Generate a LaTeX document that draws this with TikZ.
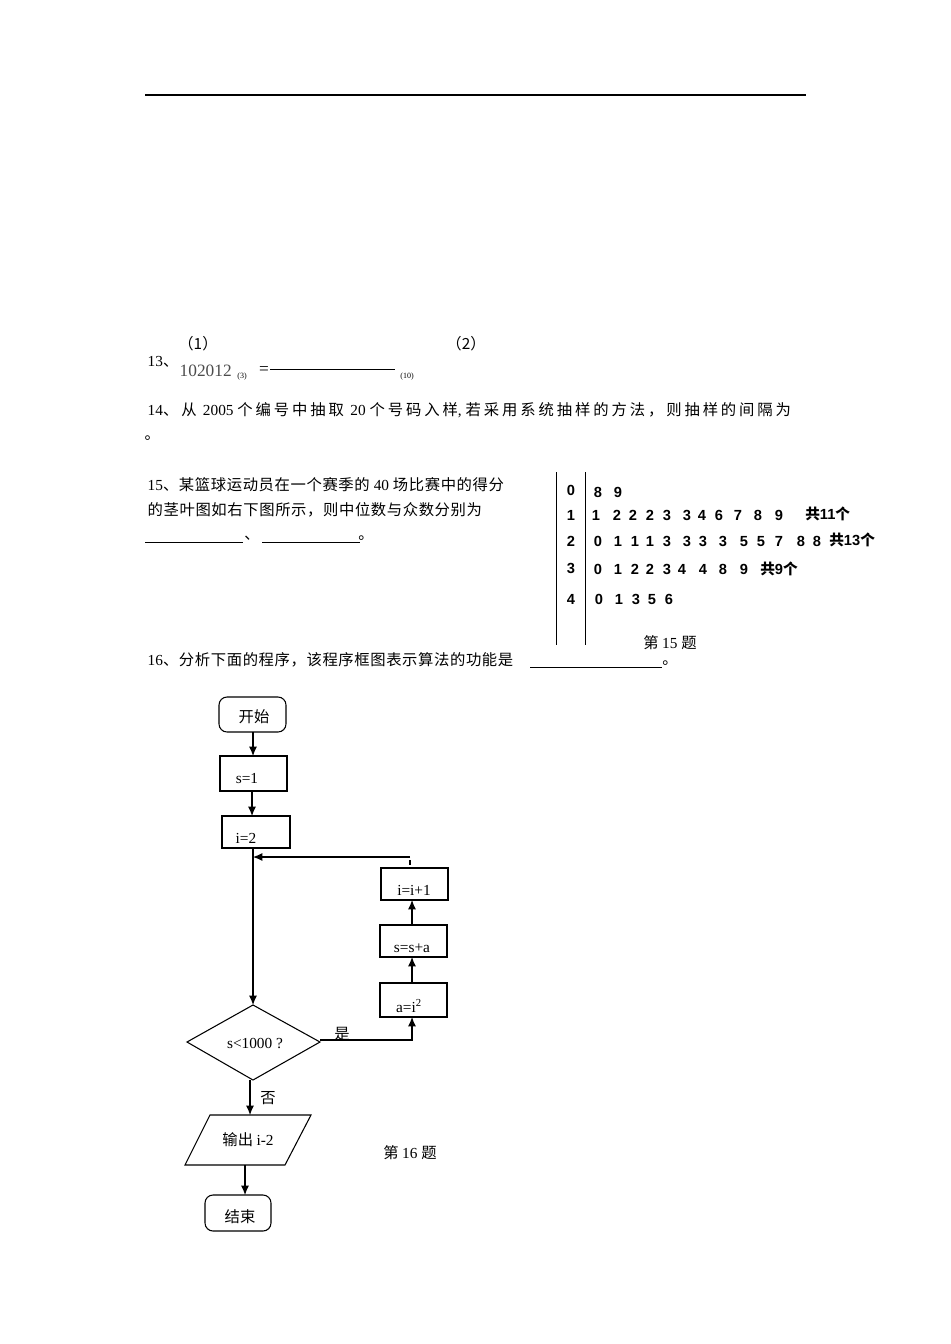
\documentclass[tikz,border=0pt]{standalone}
\usepackage{fontspec}
\setmainfont{Liberation Serif}
\newfontfamily\cjk{Noto Sans CJK SC}
\newfontfamily\cjkw[LetterSpace=19]{Noto Sans CJK SC}
\newfontfamily\cjkv[LetterSpace=4]{Noto Sans CJK SC}
\newfontfamily\arial{Liberation Sans}
\usetikzlibrary{arrows.meta}
\begin{document}
\begin{tikzpicture}[x=0.75pt,y=-0.75pt,
  every node/.style={font=\fontsize{11.5}{13}\selectfont},
  arr/.style={thick,-{Latex[length=7pt,width=6pt]}},
  sl/.style={font=\arial\bfseries\fontsize{11}{12}\selectfont,text height=8pt,text depth=0pt}]
\useasboundingbox (0,0) rectangle (950,1344);
\draw[thick] (145,95) -- (806,95);
% 13
\node (p1) at (198,344) {\cjk （1）};
\node (p2) at (466,344) {\cjk （2）};
\node[anchor=west] (q13) at (143,362) {13\cjk 、};
\node[anchor=west,font=\fontsize{13}{14}\selectfont,text=black!70] (num) at (175,371) {102012};
\node[font=\fontsize{6}{7}\selectfont] (s3) at (242,377) {(3)};
\node[font=\fontsize{13}{14}\selectfont] (eq) at (264,371) {=};
\draw (270,369) -- (395,369);
\node[font=\fontsize{6}{7}\selectfont] (s10) at (407,377) {(10)};
% 14
\node[anchor=west] (q14) at (143,410) {14\cjkw 、从 \rmfamily 2005 \cjkw 个编号中抽取 \rmfamily 20 \cjkw 个号码入样\rmfamily , \cjkw 若采用系统抽样的方法，则抽样的间隔为};
\node[anchor=west] (d14) at (140,438) {\cjk 。};
% 15
\node[anchor=west] (q15a) at (143,485) {15\cjkv 、某篮球运动员在一个赛季的 \rmfamily 40 \cjkv 场比赛中的得分};
\node[anchor=west] (q15b) at (143,510) {\cjkv 的茎叶图如右下图所示，则中位数与众数分别为};
\draw (145,542) -- (243,542);
\draw (262,542) -- (360,542);
\node (c15) at (252,538) {\cjk 、};
\node (e15) at (366,538) {\cjk 。};
\draw (556,472) -- (556,645);
\draw (585,472) -- (585,645);
\foreach \d/\y [count=\k] in {0/490,1/515,2/541,3/568,4/599} \node[sl] (r\k) at (571,\y) {\d};
\foreach \d/\x [count=\k] in {8/598,9/618} \node[sl] (la\k) at (\x,492) {\d};
\foreach \d/\x [count=\k] in {1/596,2/617,2/633,2/650,3/667,3/687,4/702,6/719,7/738,8/758,9/779} \node[sl] (lb\k) at (\x,515) {\d};
\foreach \d/\x [count=\k] in {0/598,1/618,1/635,1/650,3/667,3/687,3/703,3/723,5/744,5/761,7/779,8/801,8/817} \node[sl] (lc\k) at (\x,541) {\d};
\foreach \d/\x [count=\k] in {0/598,1/618,2/635,2/650,3/667,4/682,4/703,8/723,9/744} \node[sl] (ld\k) at (\x,569) {\d};
\foreach \d/\x [count=\k] in {0/599,1/619,3/636,5/652,6/669} \node[sl] (le\k) at (\x,599) {\d};
\node[sl,anchor=west,inner sep=0pt] (g1) at (805,514) {\cjk\bfseries 共\arial 11\cjk 个};
\node[sl,anchor=west,inner sep=0pt] (g2) at (829,540) {\cjk\bfseries 共\arial 13\cjk 个};
\node[sl,anchor=west,inner sep=0pt] (g3) at (760,569) {\cjk\bfseries 共\arial 9\cjk 个};
\node (t15) at (670,643) {\cjk 第 \rmfamily 15 \cjk 题};
% 16
\node[anchor=west] (q16) at (143,660) {16\cjkv 、分析下面的程序，该程序框图表示算法的功能是};
\draw (530,667) -- (662,667);
\node (e16) at (670,663) {\cjk 。};
% flowchart
\draw[thick,rounded corners=6pt] (219,697) rectangle (286,732);
\node (tstart) at (254,717) {\cjk 开始};
\draw[thick] (220,756) rectangle (287,791);
\node (ts1) at (247,779) {s=1};
\draw[thick] (222,816) rectangle (290,848);
\node (ti2) at (246,838) {i=2};
\coordinate (join) at (253,857);
\coordinate (loop) at (410,857);
\draw[arr] (253,732) -- (253,756);
\draw[arr] (252,791) -- (252,816);
\draw[thick] (410,860) -- (410,865);
\draw[arr] (loop) -- (join);
\draw[thick,fill=white] (187,1042) -- (253,1005) -- (320,1042) -- (253,1080) -- cycle;
\node (tdia) at (255,1043) {s<1000 ?};
\draw[arr] (253,848) -- (253,1005);
\draw[thick] (381,868) rectangle (448,900);
\node (ti) at (414,890) {i=i+1};
\draw[thick] (380,925) rectangle (447,957);
\node (tss) at (412,948) {s=s+a};
\draw[thick] (380,983) rectangle (447,1017);
\node (ta) at (409,1006) {a=i\textsuperscript{2}};
\draw[arr] (412,925) -- (412,900);
\draw[arr] (412,983) -- (412,957);
\draw[arr] (320,1040) -- (412,1040) -- (412,1017);
\node (yes) at (342,1034) {\cjk 是};
\draw[arr] (250,1080) -- (250,1115);
\node (no) at (268,1098) {\cjk 否};
\draw[thick] (210,1115) -- (311,1115) -- (285,1165) -- (185,1165) -- cycle;
\node (tout) at (248,1140) {\cjk 输出 \rmfamily i-2};
\draw[arr] (245,1165) -- (245,1195);
\draw[thick,rounded corners=6pt] (205,1195) rectangle (271,1231);
\node (tend) at (240,1217) {\cjk 结束};
\node (t16) at (410,1153) {\cjk 第 \rmfamily 16 \cjk 题};
\end{tikzpicture}
\end{document}
